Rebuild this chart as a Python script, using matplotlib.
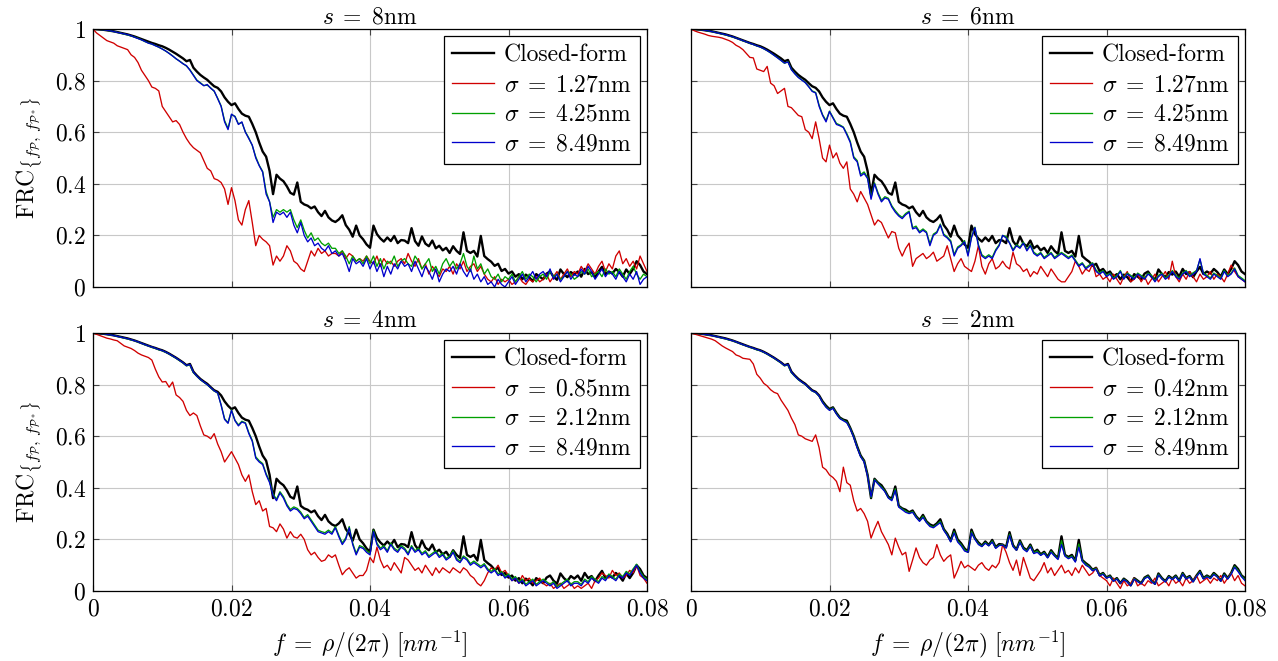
import numpy as np
import matplotlib
matplotlib.use("Agg")
import matplotlib.pyplot as plt

plt.rcParams["mathtext.fontset"] = "cm"
plt.rcParams["font.family"] = "serif"
plt.rcParams["font.serif"] = ["cmr10", "DejaVu Serif"]
plt.rcParams["axes.formatter.use_mathtext"] = True

# frequency axis, sampled every 0.0005 nm^-1
FREQ = np.linspace(0.0, 0.08, 161)

# closed-form FRC (same in all four panels)
closed_form = [
    1.000, 0.999, 0.998, 0.997, 0.995, 0.993, 0.991, 0.988, 0.985, 0.982,
    0.979, 0.975, 0.971, 0.966, 0.961, 0.956, 0.951, 0.946, 0.942, 0.937,
    0.933, 0.927, 0.920, 0.912, 0.904, 0.895, 0.886, 0.875, 0.880, 0.850,
    0.835, 0.822, 0.812, 0.803, 0.790, 0.778, 0.772, 0.758, 0.735, 0.718,
    0.705, 0.712, 0.690, 0.672, 0.664, 0.660, 0.632, 0.600, 0.560, 0.525,
    0.505, 0.450, 0.360, 0.435, 0.420, 0.410, 0.390, 0.365, 0.358, 0.405,
    0.330, 0.320, 0.315, 0.305, 0.312, 0.290, 0.275, 0.295, 0.270, 0.258,
    0.252, 0.262, 0.278, 0.240, 0.222, 0.195, 0.238, 0.200, 0.185, 0.165,
    0.152, 0.238, 0.205, 0.188, 0.176, 0.192, 0.178, 0.198, 0.170, 0.182,
    0.180, 0.170, 0.228, 0.178, 0.160, 0.196, 0.168, 0.158, 0.180, 0.150,
    0.160, 0.142, 0.152, 0.132, 0.158, 0.140, 0.128, 0.212, 0.140, 0.132,
    0.140, 0.118, 0.198, 0.120, 0.108, 0.098, 0.082, 0.090, 0.062, 0.070,
    0.052, 0.060, 0.040, 0.050, 0.030, 0.048, 0.038, 0.022, 0.050, 0.040,
    0.030, 0.052, 0.060, 0.040, 0.028, 0.068, 0.050, 0.038, 0.058, 0.048,
    0.060, 0.040, 0.070, 0.050, 0.058, 0.038, 0.060, 0.078, 0.050, 0.060,
    0.052, 0.070, 0.058, 0.040, 0.068, 0.050, 0.070, 0.100, 0.085, 0.060, 0.050,
]

# ---- s = 8nm ----
s8_red = [
    1.000, 0.985, 0.975, 0.965, 0.955, 0.950, 0.945, 0.935, 0.930, 0.925,
    0.920, 0.900, 0.890, 0.870, 0.840, 0.820, 0.800, 0.775, 0.770, 0.760,
    0.700, 0.680, 0.660, 0.640, 0.645, 0.630, 0.600, 0.575, 0.555, 0.540,
    0.530, 0.520, 0.490, 0.460, 0.450, 0.420, 0.415, 0.405, 0.380, 0.320,
    0.385, 0.335, 0.260, 0.240, 0.300, 0.335, 0.250, 0.160, 0.200, 0.185,
    0.175, 0.160, 0.085, 0.120, 0.100, 0.120, 0.160, 0.140, 0.100, 0.090,
    0.070, 0.060, 0.100, 0.140, 0.120, 0.150, 0.130, 0.140, 0.120, 0.130,
    0.130, 0.120, 0.140, 0.110, 0.130, 0.120, 0.100, 0.110, 0.100, 0.120,
    0.100, 0.090, 0.120, 0.080, 0.110, 0.090, 0.100, 0.080, 0.100, 0.110,
    0.090, 0.130, 0.100, 0.080, 0.110, 0.070, 0.090, 0.050, 0.080, 0.060,
    0.040, 0.070, 0.060, 0.080, 0.050, 0.090, 0.070, 0.100, 0.060, 0.080,
    0.090, 0.060, 0.080, 0.050, 0.030, 0.020, 0.040, 0.010, 0.030, 0.020,
    0.030, 0.010, 0.020, 0.040, 0.020, 0.010, 0.030, 0.020, 0.040, 0.020,
    0.030, 0.050, 0.020, 0.040, 0.060, 0.030, 0.050, 0.070, 0.040, 0.060,
    0.050, 0.080, 0.060, 0.090, 0.070, 0.050, 0.080, 0.100, 0.060, 0.090,
    0.070, 0.120, 0.140, 0.090, 0.110, 0.080, 0.100, 0.070, 0.120, 0.090, 0.060,
]
s8_green = [
    1.000, 0.999, 0.998, 0.997, 0.995, 0.992, 0.990, 0.987, 0.984, 0.980,
    0.977, 0.973, 0.969, 0.964, 0.958, 0.951, 0.946, 0.941, 0.936, 0.929,
    0.923, 0.914, 0.906, 0.896, 0.884, 0.876, 0.866, 0.856, 0.842, 0.822,
    0.802, 0.792, 0.781, 0.782, 0.772, 0.758, 0.732, 0.702, 0.645, 0.615,
    0.668, 0.662, 0.632, 0.638, 0.602, 0.578, 0.548, 0.505, 0.472, 0.448,
    0.370, 0.330, 0.270, 0.300, 0.290, 0.300, 0.290, 0.300, 0.260, 0.230,
    0.260, 0.220, 0.190, 0.210, 0.180, 0.190, 0.170, 0.160, 0.170, 0.150,
    0.150, 0.130, 0.140, 0.120, 0.090, 0.120, 0.100, 0.110, 0.090, 0.120,
    0.090, 0.120, 0.080, 0.110, 0.070, 0.100, 0.090, 0.120, 0.080, 0.100,
    0.110, 0.090, 0.080, 0.120, 0.100, 0.070, 0.090, 0.110, 0.060, 0.080,
    0.050, 0.090, 0.110, 0.080, 0.100, 0.070, 0.090, 0.130, 0.080, 0.060,
    0.120, 0.070, 0.090, 0.050, 0.070, 0.040, 0.030, 0.050, 0.020, 0.040,
    0.030, 0.050, 0.020, 0.040, 0.060, 0.030, 0.050, 0.040, 0.020, 0.040,
    0.050, 0.030, 0.060, 0.040, 0.050, 0.030, 0.040, 0.060, 0.050, 0.030,
    0.040, 0.060, 0.050, 0.070, 0.040, 0.050, 0.060, 0.040, 0.070, 0.050,
    0.060, 0.040, 0.070, 0.050, 0.030, 0.060, 0.080, 0.050, 0.030, 0.050, 0.040,
]
s8_blue = [
    1.000, 0.999, 0.998, 0.997, 0.995, 0.993, 0.990, 0.987, 0.984, 0.981,
    0.978, 0.974, 0.968, 0.963, 0.958, 0.952, 0.945, 0.942, 0.935, 0.930,
    0.922, 0.915, 0.905, 0.895, 0.885, 0.875, 0.865, 0.858, 0.840, 0.820,
    0.800, 0.790, 0.780, 0.785, 0.770, 0.760, 0.730, 0.700, 0.640, 0.610,
    0.670, 0.660, 0.630, 0.640, 0.600, 0.575, 0.550, 0.500, 0.470, 0.445,
    0.360, 0.330, 0.250, 0.290, 0.280, 0.290, 0.270, 0.290, 0.240, 0.210,
    0.250, 0.200, 0.175, 0.190, 0.160, 0.170, 0.150, 0.140, 0.160, 0.130,
    0.140, 0.120, 0.130, 0.100, 0.060, 0.110, 0.090, 0.100, 0.080, 0.110,
    0.070, 0.100, 0.060, 0.090, 0.040, 0.080, 0.050, 0.090, 0.070, 0.100,
    0.080, 0.090, 0.060, 0.100, 0.070, 0.040, 0.080, 0.060, 0.030, 0.070,
    0.020, 0.050, 0.070, 0.060, 0.080, 0.050, 0.090, 0.060, 0.040, 0.070,
    0.030, 0.050, 0.020, 0.040, 0.010, 0.020, 0.000, 0.030, 0.010, 0.000,
    0.020, 0.040, 0.010, 0.030, 0.050, 0.020, 0.040, 0.060, 0.030, 0.050,
    0.060, 0.040, 0.070, 0.030, 0.050, 0.020, 0.040, 0.060, 0.030, 0.050,
    0.040, 0.070, 0.050, 0.080, 0.060, 0.030, 0.050, 0.070, 0.040, 0.060,
    0.050, 0.030, 0.060, 0.040, 0.020, 0.050, 0.030, 0.060, 0.010, 0.030, 0.040,
]

# ---- s = 6nm ----
s6_red = [
    1.000, 0.993, 0.988, 0.984, 0.980, 0.975, 0.972, 0.970, 0.968, 0.965,
    0.960, 0.955, 0.948, 0.937, 0.930, 0.920, 0.905, 0.890, 0.888, 0.845,
    0.840, 0.835, 0.855, 0.790, 0.780, 0.750, 0.760, 0.770, 0.700, 0.695,
    0.680, 0.665, 0.660, 0.610, 0.600, 0.575, 0.640, 0.575, 0.500, 0.485,
    0.550, 0.500, 0.520, 0.480, 0.460, 0.485, 0.380, 0.360, 0.330, 0.370,
    0.345, 0.320, 0.280, 0.240, 0.260, 0.250, 0.220, 0.190, 0.215, 0.210,
    0.150, 0.120, 0.150, 0.170, 0.080, 0.110, 0.120, 0.130, 0.110, 0.120,
    0.135, 0.100, 0.110, 0.120, 0.160, 0.110, 0.060, 0.090, 0.110, 0.080,
    0.070, 0.060, 0.100, 0.160, 0.080, 0.050, 0.090, 0.110, 0.070, 0.080,
    0.100, 0.080, 0.070, 0.135, 0.090, 0.080, 0.060, 0.070, 0.040, 0.060,
    0.050, 0.080, 0.060, 0.040, 0.070, 0.050, 0.030, 0.020, 0.020, 0.040,
    0.060, 0.100, 0.080, 0.050, 0.070, 0.060, 0.090, 0.040, 0.050, 0.030,
    0.040, 0.020, 0.050, 0.030, 0.010, 0.040, 0.060, 0.020, 0.030, 0.050,
    0.020, 0.040, 0.010, 0.030, 0.050, 0.020, 0.040, 0.060, 0.030, 0.100,
    0.040, 0.020, 0.050, 0.030, 0.060, 0.040, 0.020, 0.050, 0.030, 0.040,
    0.060, 0.030, 0.050, 0.040, 0.020, 0.050, 0.085, 0.060, 0.040, 0.030, 0.020,
]
s6_green = [
    1.000, 0.999, 0.998, 0.997, 0.995, 0.992, 0.990, 0.987, 0.984, 0.980,
    0.977, 0.973, 0.969, 0.965, 0.960, 0.954, 0.950, 0.944, 0.940, 0.934,
    0.930, 0.923, 0.916, 0.907, 0.898, 0.889, 0.878, 0.867, 0.873, 0.843,
    0.827, 0.813, 0.803, 0.793, 0.777, 0.760, 0.754, 0.705, 0.668, 0.645,
    0.682, 0.658, 0.634, 0.628, 0.620, 0.595, 0.565, 0.505, 0.490, 0.436,
    0.446, 0.424, 0.346, 0.404, 0.366, 0.336, 0.350, 0.344, 0.315, 0.296,
    0.280, 0.270, 0.285, 0.294, 0.230, 0.236, 0.215, 0.225, 0.214, 0.168,
    0.205, 0.214, 0.244, 0.205, 0.194, 0.180, 0.126, 0.155, 0.164, 0.180,
    0.125, 0.195, 0.232, 0.165, 0.125, 0.115, 0.125, 0.115, 0.145, 0.164,
    0.200, 0.196, 0.172, 0.145, 0.164, 0.155, 0.174, 0.145, 0.164, 0.135,
    0.125, 0.134, 0.115, 0.125, 0.134, 0.115, 0.125, 0.134, 0.125, 0.115,
    0.124, 0.105, 0.085, 0.094, 0.075, 0.085, 0.094, 0.065, 0.055, 0.064,
    0.045, 0.054, 0.035, 0.045, 0.064, 0.035, 0.054, 0.045, 0.035, 0.054,
    0.045, 0.035, 0.054, 0.045, 0.025, 0.045, 0.054, 0.035, 0.045, 0.064,
    0.045, 0.035, 0.054, 0.064, 0.045, 0.055, 0.064, 0.105, 0.055, 0.045,
    0.035, 0.054, 0.045, 0.035, 0.064, 0.045, 0.054, 0.074, 0.045, 0.035, 0.025,
]
s6_blue = [
    1.000, 0.999, 0.998, 0.997, 0.995, 0.993, 0.990, 0.987, 0.984, 0.981,
    0.978, 0.974, 0.970, 0.965, 0.960, 0.955, 0.950, 0.945, 0.940, 0.935,
    0.930, 0.924, 0.916, 0.908, 0.898, 0.888, 0.878, 0.868, 0.872, 0.842,
    0.826, 0.812, 0.802, 0.792, 0.776, 0.758, 0.752, 0.700, 0.665, 0.640,
    0.680, 0.655, 0.630, 0.625, 0.618, 0.590, 0.560, 0.500, 0.485, 0.430,
    0.440, 0.420, 0.340, 0.400, 0.360, 0.330, 0.345, 0.340, 0.310, 0.290,
    0.275, 0.265, 0.280, 0.290, 0.225, 0.230, 0.210, 0.220, 0.210, 0.160,
    0.200, 0.210, 0.240, 0.200, 0.190, 0.175, 0.120, 0.150, 0.160, 0.175,
    0.120, 0.190, 0.230, 0.160, 0.120, 0.110, 0.120, 0.110, 0.140, 0.160,
    0.200, 0.190, 0.170, 0.140, 0.160, 0.150, 0.170, 0.140, 0.160, 0.130,
    0.120, 0.130, 0.110, 0.120, 0.130, 0.110, 0.120, 0.130, 0.120, 0.110,
    0.120, 0.100, 0.080, 0.090, 0.070, 0.080, 0.090, 0.060, 0.050, 0.060,
    0.040, 0.050, 0.030, 0.040, 0.060, 0.030, 0.050, 0.040, 0.030, 0.050,
    0.040, 0.030, 0.050, 0.040, 0.020, 0.040, 0.050, 0.030, 0.040, 0.060,
    0.040, 0.030, 0.050, 0.060, 0.040, 0.050, 0.060, 0.110, 0.050, 0.040,
    0.030, 0.050, 0.040, 0.030, 0.060, 0.040, 0.050, 0.070, 0.040, 0.030, 0.020,
]

# ---- s = 4nm ----
s4_red = [
    1.000, 0.995, 0.990, 0.985, 0.980, 0.977, 0.973, 0.970, 0.960, 0.950,
    0.945, 0.940, 0.932, 0.922, 0.915, 0.910, 0.905, 0.895, 0.860, 0.830,
    0.810, 0.812, 0.790, 0.810, 0.760, 0.750, 0.735, 0.700, 0.680, 0.690,
    0.680, 0.640, 0.605, 0.600, 0.590, 0.610, 0.570, 0.540, 0.500, 0.520,
    0.540, 0.515, 0.490, 0.450, 0.425, 0.450, 0.385, 0.335, 0.350, 0.310,
    0.320, 0.250, 0.245, 0.230, 0.260, 0.240, 0.205, 0.230, 0.210, 0.205,
    0.220, 0.200, 0.160, 0.140, 0.150, 0.130, 0.115, 0.120, 0.140, 0.130,
    0.140, 0.100, 0.063, 0.080, 0.090, 0.070, 0.050, 0.060, 0.060, 0.080,
    0.130, 0.110, 0.170, 0.120, 0.090, 0.100, 0.080, 0.110, 0.090, 0.070,
    0.130, 0.120, 0.100, 0.080, 0.090, 0.070, 0.100, 0.080, 0.060, 0.090,
    0.070, 0.090, 0.080, 0.070, 0.090, 0.080, 0.070, 0.090, 0.080, 0.060,
    0.050, 0.030, 0.020, 0.040, 0.070, 0.090, 0.080, 0.100, 0.070, 0.080,
    0.060, 0.040, 0.050, 0.030, 0.060, 0.040, 0.050, 0.030, 0.040, 0.050,
    0.030, 0.020, 0.030, 0.010, 0.020, 0.030, 0.010, 0.020, 0.030, 0.010,
    0.020, 0.010, 0.020, 0.030, 0.010, 0.040, 0.050, 0.070, 0.060, 0.050,
    0.080, 0.060, 0.070, 0.050, 0.060, 0.080, 0.070, 0.100, 0.060, 0.050, 0.030,
]
s4_green = [
    1.000, 0.999, 0.998, 0.997, 0.995, 0.992, 0.990, 0.987, 0.984, 0.980,
    0.977, 0.973, 0.970, 0.965, 0.960, 0.954, 0.950, 0.945, 0.940, 0.935,
    0.931, 0.925, 0.918, 0.910, 0.902, 0.893, 0.884, 0.873, 0.876, 0.846,
    0.832, 0.819, 0.809, 0.799, 0.787, 0.775, 0.767, 0.722, 0.668, 0.652,
    0.702, 0.662, 0.644, 0.658, 0.652, 0.614, 0.584, 0.520, 0.505, 0.494,
    0.455, 0.425, 0.376, 0.356, 0.385, 0.366, 0.336, 0.316, 0.326, 0.320,
    0.306, 0.285, 0.296, 0.276, 0.256, 0.236, 0.230, 0.226, 0.236, 0.226,
    0.250, 0.216, 0.186, 0.206, 0.250, 0.186, 0.146, 0.176, 0.170, 0.156,
    0.146, 0.236, 0.186, 0.166, 0.176, 0.156, 0.186, 0.166, 0.156, 0.176,
    0.166, 0.146, 0.176, 0.156, 0.166, 0.146, 0.156, 0.136, 0.146, 0.156,
    0.136, 0.146, 0.126, 0.136, 0.156, 0.126, 0.116, 0.136, 0.126, 0.106,
    0.116, 0.106, 0.096, 0.106, 0.086, 0.076, 0.086, 0.066, 0.076, 0.056,
    0.066, 0.046, 0.056, 0.036, 0.046, 0.026, 0.036, 0.046, 0.026, 0.036,
    0.046, 0.036, 0.026, 0.036, 0.016, 0.026, 0.036, 0.046, 0.026, 0.036,
    0.036, 0.026, 0.046, 0.036, 0.056, 0.046, 0.036, 0.056, 0.046, 0.066,
    0.056, 0.046, 0.066, 0.056, 0.076, 0.066, 0.086, 0.104, 0.076, 0.056, 0.046,
]
s4_blue = [
    1.000, 0.999, 0.998, 0.997, 0.995, 0.993, 0.990, 0.987, 0.984, 0.981,
    0.978, 0.974, 0.970, 0.966, 0.960, 0.955, 0.950, 0.946, 0.941, 0.936,
    0.932, 0.926, 0.919, 0.911, 0.903, 0.894, 0.885, 0.874, 0.878, 0.848,
    0.833, 0.820, 0.810, 0.800, 0.788, 0.776, 0.768, 0.720, 0.665, 0.650,
    0.700, 0.660, 0.640, 0.655, 0.650, 0.610, 0.580, 0.515, 0.500, 0.490,
    0.450, 0.420, 0.370, 0.350, 0.380, 0.360, 0.330, 0.310, 0.320, 0.315,
    0.300, 0.280, 0.290, 0.270, 0.250, 0.230, 0.225, 0.220, 0.230, 0.220,
    0.245, 0.210, 0.180, 0.200, 0.245, 0.180, 0.140, 0.170, 0.165, 0.150,
    0.140, 0.230, 0.180, 0.160, 0.170, 0.150, 0.180, 0.160, 0.150, 0.170,
    0.160, 0.140, 0.170, 0.150, 0.160, 0.140, 0.150, 0.130, 0.140, 0.150,
    0.130, 0.140, 0.120, 0.130, 0.150, 0.120, 0.110, 0.130, 0.120, 0.100,
    0.110, 0.100, 0.090, 0.100, 0.080, 0.070, 0.080, 0.060, 0.070, 0.050,
    0.060, 0.040, 0.050, 0.030, 0.040, 0.020, 0.030, 0.040, 0.020, 0.030,
    0.040, 0.030, 0.020, 0.030, 0.010, 0.020, 0.030, 0.040, 0.020, 0.030,
    0.030, 0.020, 0.040, 0.030, 0.050, 0.040, 0.030, 0.050, 0.040, 0.060,
    0.050, 0.040, 0.060, 0.050, 0.070, 0.060, 0.080, 0.100, 0.070, 0.050, 0.040,
]

# ---- s = 2nm ----
s2_red = [
    1.000, 0.996, 0.992, 0.988, 0.984, 0.980, 0.976, 0.970, 0.960, 0.950,
    0.942, 0.935, 0.928, 0.915, 0.910, 0.902, 0.900, 0.898, 0.880, 0.840,
    0.825, 0.805, 0.795, 0.780, 0.770, 0.765, 0.740, 0.720, 0.700, 0.670,
    0.645, 0.605, 0.600, 0.590, 0.585, 0.580, 0.605, 0.555, 0.480, 0.470,
    0.450, 0.440, 0.425, 0.385, 0.480, 0.420, 0.410, 0.350, 0.310, 0.320,
    0.300, 0.270, 0.205, 0.240, 0.270, 0.230, 0.205, 0.180, 0.140, 0.205,
    0.170, 0.140, 0.150, 0.076, 0.120, 0.167, 0.130, 0.110, 0.100, 0.120,
    0.130, 0.180, 0.140, 0.115, 0.130, 0.140, 0.050, 0.080, 0.115, 0.090,
    0.100, 0.090, 0.080, 0.100, 0.110, 0.090, 0.080, 0.100, 0.090, 0.110,
    0.180, 0.150, 0.110, 0.080, 0.120, 0.060, 0.130, 0.090, 0.050, 0.040,
    0.060, 0.080, 0.110, 0.070, 0.090, 0.060, 0.080, 0.100, 0.070, 0.080,
    0.060, 0.090, 0.070, 0.100, 0.080, 0.060, 0.070, 0.090, 0.060, 0.050,
    0.040, 0.020, 0.050, 0.030, 0.010, 0.040, 0.020, 0.030, 0.050, 0.020,
    0.030, 0.020, 0.040, 0.030, 0.050, 0.020, 0.030, 0.040, 0.020, 0.050,
    0.030, 0.040, 0.020, 0.050, 0.030, 0.040, 0.060, 0.030, 0.040, 0.050,
    0.030, 0.050, 0.040, 0.060, 0.030, 0.050, 0.070, 0.040, 0.060, 0.030, 0.020,
]
s2_green = [
    1.000, 0.999, 0.998, 0.997, 0.995, 0.992, 0.990, 0.987, 0.984, 0.980,
    0.977, 0.973, 0.970, 0.965, 0.960, 0.954, 0.950, 0.945, 0.940, 0.935,
    0.931, 0.925, 0.918, 0.910, 0.902, 0.893, 0.884, 0.873, 0.876, 0.846,
    0.832, 0.819, 0.809, 0.800, 0.787, 0.775, 0.769, 0.755, 0.732, 0.714,
    0.702, 0.710, 0.688, 0.670, 0.662, 0.655, 0.630, 0.598, 0.558, 0.522,
    0.503, 0.448, 0.362, 0.433, 0.418, 0.404, 0.388, 0.362, 0.354, 0.396,
    0.328, 0.318, 0.310, 0.302, 0.308, 0.288, 0.272, 0.290, 0.268, 0.254,
    0.248, 0.258, 0.270, 0.238, 0.218, 0.192, 0.230, 0.194, 0.180, 0.160,
    0.151, 0.230, 0.202, 0.184, 0.174, 0.188, 0.176, 0.194, 0.168, 0.178,
    0.179, 0.168, 0.220, 0.175, 0.159, 0.192, 0.165, 0.155, 0.176, 0.148,
    0.155, 0.140, 0.149, 0.130, 0.154, 0.138, 0.125, 0.195, 0.138, 0.128,
    0.136, 0.115, 0.182, 0.118, 0.104, 0.095, 0.080, 0.088, 0.060, 0.068,
    0.051, 0.058, 0.039, 0.048, 0.030, 0.046, 0.036, 0.021, 0.048, 0.038,
    0.029, 0.050, 0.058, 0.038, 0.027, 0.065, 0.048, 0.036, 0.056, 0.046,
    0.058, 0.039, 0.068, 0.048, 0.056, 0.036, 0.058, 0.075, 0.048, 0.058,
    0.050, 0.067, 0.056, 0.039, 0.065, 0.048, 0.068, 0.096, 0.080, 0.058, 0.045,
]
s2_blue = [
    1.000, 0.999, 0.998, 0.997, 0.995, 0.993, 0.990, 0.987, 0.984, 0.981,
    0.978, 0.974, 0.970, 0.966, 0.960, 0.955, 0.950, 0.946, 0.941, 0.936,
    0.932, 0.926, 0.919, 0.911, 0.903, 0.894, 0.885, 0.874, 0.878, 0.848,
    0.833, 0.820, 0.810, 0.801, 0.788, 0.776, 0.770, 0.756, 0.730, 0.712,
    0.700, 0.708, 0.686, 0.668, 0.660, 0.652, 0.628, 0.595, 0.555, 0.520,
    0.500, 0.445, 0.365, 0.430, 0.415, 0.400, 0.385, 0.360, 0.350, 0.390,
    0.325, 0.315, 0.305, 0.300, 0.305, 0.285, 0.270, 0.285, 0.265, 0.250,
    0.245, 0.255, 0.265, 0.235, 0.215, 0.190, 0.225, 0.190, 0.175, 0.155,
    0.150, 0.225, 0.200, 0.180, 0.172, 0.185, 0.175, 0.190, 0.165, 0.176,
    0.178, 0.166, 0.215, 0.172, 0.158, 0.188, 0.162, 0.152, 0.172, 0.145,
    0.150, 0.138, 0.146, 0.128, 0.150, 0.135, 0.122, 0.180, 0.135, 0.125,
    0.132, 0.112, 0.170, 0.115, 0.100, 0.092, 0.078, 0.085, 0.058, 0.065,
    0.050, 0.055, 0.038, 0.046, 0.030, 0.044, 0.035, 0.020, 0.046, 0.036,
    0.028, 0.048, 0.055, 0.036, 0.026, 0.062, 0.046, 0.035, 0.054, 0.044,
    0.055, 0.038, 0.065, 0.046, 0.054, 0.035, 0.056, 0.072, 0.046, 0.055,
    0.048, 0.064, 0.054, 0.038, 0.062, 0.046, 0.065, 0.092, 0.075, 0.055, 0.040,
]

PANELS = [
    {"title": r"$s \;=\; 8\mathrm{nm}$", "sigmas": ["1.27", "4.25", "8.49"],
     "red": s8_red, "green": s8_green, "blue": s8_blue},
    {"title": r"$s \;=\; 6\mathrm{nm}$", "sigmas": ["1.27", "4.25", "8.49"],
     "red": s6_red, "green": s6_green, "blue": s6_blue},
    {"title": r"$s \;=\; 4\mathrm{nm}$", "sigmas": ["0.85", "2.12", "8.49"],
     "red": s4_red, "green": s4_green, "blue": s4_blue},
    {"title": r"$s \;=\; 2\mathrm{nm}$", "sigmas": ["0.42", "2.12", "8.49"],
     "red": s2_red, "green": s2_green, "blue": s2_blue},
]

X_TICKS = [0.0, 0.02, 0.04, 0.06, 0.08]
X_TICKLABELS = ["$0$", "$0.02$", "$0.04$", "$0.06$", "$0.08$"]
Y_TICKS = [0.0, 0.2, 0.4, 0.6, 0.8, 1.0]
Y_TICKLABELS = ["$0$", "$0.2$", "$0.4$", "$0.6$", "$0.8$", "$1$"]

RED, GREEN, BLUE = "#d00000", "#00a000", "#0000cc"
FS = 17

W, H = 1278, 661
fig = plt.figure(figsize=(W / 100, H / 100), dpi=100)
boxes = [(93, 29), (691, 29), (93, 333), (691, 333)]
AX_W, AX_H = 554, 258

for i, (cfg, (x0, y0)) in enumerate(zip(PANELS, boxes)):
    ax = fig.add_axes([x0 / W, 1 - (y0 + AX_H) / H, AX_W / W, AX_H / H])
    ax.plot(FREQ, closed_form, color="black", lw=1.7, label="Closed-form")
    ax.plot(FREQ, cfg["red"], color=RED, lw=0.95,
            label=r"$\sigma \;=\; %s\mathrm{nm}$" % cfg["sigmas"][0])
    ax.plot(FREQ, cfg["green"], color=GREEN, lw=0.95,
            label=r"$\sigma \;=\; %s\mathrm{nm}$" % cfg["sigmas"][1])
    ax.plot(FREQ, cfg["blue"], color=BLUE, lw=0.95,
            label=r"$\sigma \;=\; %s\mathrm{nm}$" % cfg["sigmas"][2])

    ax.set_xlim(0, 0.08)
    ax.set_ylim(0, 1)
    ax.set_xticks(X_TICKS)
    ax.set_yticks(Y_TICKS)
    ax.grid(True, color="#c8c8c8", lw=0.8)
    ax.set_axisbelow(True)
    ax.tick_params(direction="in", length=4, width=0.8, color="#444444",
                   top=True, right=True, labelsize=FS, pad=5)
    for sp in ax.spines.values():
        sp.set_linewidth(0.9)

    if i % 2 == 0:
        ax.set_yticklabels(Y_TICKLABELS)
        ax.set_ylabel(r"$\mathrm{FRC}_{\{f_{\mathcal{P}},\, f_{\mathcal{P}^*}\}}$",
                      fontsize=FS, labelpad=8)
    else:
        ax.set_yticklabels([])
    if i >= 2:
        ax.set_xticklabels(X_TICKLABELS)
        ax.set_xlabel(r"$f \;=\; \rho/(2\pi)\ [nm^{-1}]$", fontsize=FS, labelpad=6)
    else:
        ax.set_xticklabels([])

    ax.set_title(cfg["title"], fontsize=FS, pad=4)
    leg = ax.legend(loc="upper right", fontsize=FS, fancybox=False,
                    edgecolor="black", framealpha=1, handlelength=1.8,
                    labelspacing=0.32, borderaxespad=0.3, borderpad=0.35,
                    handletextpad=0.4)
    leg.get_frame().set_linewidth(0.9)

fig.savefig("out.png", dpi=100)
